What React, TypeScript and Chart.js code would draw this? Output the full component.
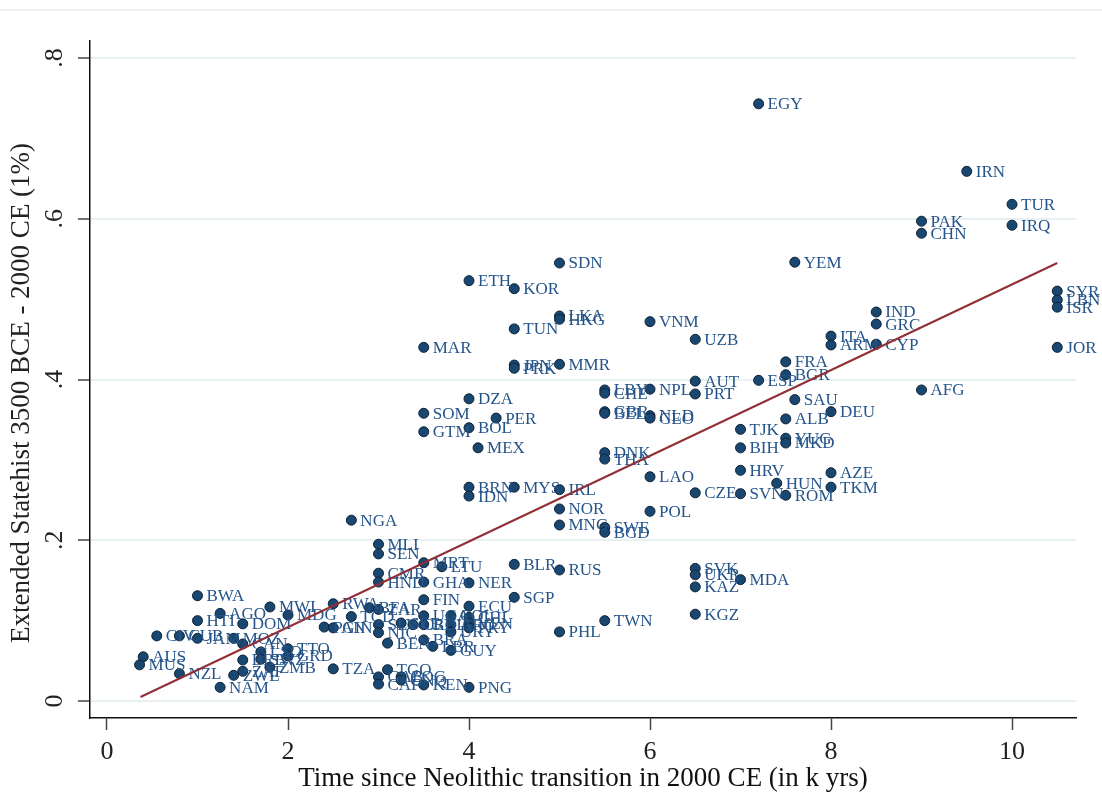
import React, { useEffect, useRef } from "react";
import { Chart, registerables } from "chart.js";

Chart.register(...registerables);

const countries = [
  "EGY", "IRN", "TUR", "IRQ", "PAK", "CHN", "YEM", "SDN", "ETH", "KOR",
  "LKA", "HKG", "TUN", "VNM", "UZB", "MAR", "JPN", "PRK", "MMR", "SYR",
  "LBN", "ISR", "JOR", "IND", "GRC", "CYP", "ITA", "ARM", "FRA", "ESP",
  "BGR", "AFG", "SAU", "DEU", "ALB", "TJK", "YUG", "MKD", "BIH", "HRV",
  "AZE", "HUN", "TKM", "CZE", "SVN", "ROM", "AUT", "PRT", "NPL", "LBY",
  "CHE", "GBR", "BEL", "NLD", "GEO", "DZA", "SOM", "PER", "BOL", "GTM",
  "MEX", "DNK", "THA", "LAO", "BRN", "IDN", "MYS", "IRL", "NOR", "POL",
  "MNG", "SWE", "BGD", "NGA", "MLI", "SEN", "MRT", "LTU", "CMR", "HND",
  "GHA", "NER", "BLR", "RUS", "SGP", "TWN", "PHL", "SVK", "UKR", "MDA",
  "KAZ", "KGZ", "BWA", "AGO", "HTI", "MWI", "DOM", "MDG", "RWA", "CIV",
  "CUB", "JAM", "MOZ", "CAN", "TTO", "GRD", "LSO", "SWZ", "BRB", "ZAF",
  "ZMB", "ZWE", "NAM", "AUS", "MUS", "NZL", "TZA", "BFA", "ZAR", "TCD",
  "PAN", "GIN", "SLV", "NIC", "SLE", "CRI", "BDI", "FIN", "UGA", "COL",
  "ECU", "CHL", "ARG", "VEN", "PRY", "URY", "BEN", "BRA", "LBR", "GUY",
  "TGO", "GAB", "CAF", "COG", "GNQ", "KEN", "PNG",
];

const timeSinceNeolithic = [
  7.2, 9.5, 10, 10, 9, 9, 7.6, 5, 4, 4.5,
  5, 5, 4.5, 6, 6.5, 3.5, 4.5, 4.5, 5, 10.5,
  10.5, 10.5, 10.5, 8.5, 8.5, 8.5, 8, 8, 7.5, 7.2,
  7.5, 9, 7.6, 8, 7.5, 7, 7.5, 7.5, 7, 7,
  8, 7.4, 8, 6.5, 7, 7.5, 6.5, 6.5, 6, 5.5,
  5.5, 5.5, 5.5, 6, 6, 4, 3.5, 4.3, 4, 3.5,
  4.1, 5.5, 5.5, 6, 4, 4, 4.5, 5, 5, 6,
  5, 5.5, 5.5, 2.7, 3, 3, 3.5, 3.7, 3, 3,
  3.5, 4, 4.5, 5, 4.5, 5.5, 5, 6.5, 6.5, 7,
  6.5, 6.5, 1, 1.25, 1, 1.8, 1.5, 2, 2.5, 0.55,
  0.8, 1, 1.4, 1.5, 2, 2, 1.7, 1.7, 1.5, 1.5,
  1.8, 1.4, 1.25, 0.4, 0.36, 0.8, 2.5, 2.9, 3, 2.7,
  2.4, 2.5, 3, 3, 3.25, 3.38, 3.5, 3.5, 3.5, 3.8,
  4, 4, 3.8, 4, 4, 3.8, 3.1, 3.5, 3.6, 3.8,
  3.1, 3, 3, 3.25, 3.25, 3.5, 4,
];

const statehist = [
  0.743, 0.659, 0.618, 0.592, 0.597, 0.582, 0.546, 0.545, 0.523, 0.513,
  0.479, 0.475, 0.463, 0.472, 0.45, 0.44, 0.418, 0.414, 0.419, 0.51,
  0.499, 0.49, 0.44, 0.484, 0.469, 0.444, 0.454, 0.443, 0.422, 0.399,
  0.406, 0.387, 0.375, 0.36, 0.351, 0.338, 0.327, 0.321, 0.315, 0.287,
  0.284, 0.271, 0.266, 0.259, 0.258, 0.256, 0.398, 0.382, 0.388, 0.387,
  0.383, 0.36, 0.358, 0.355, 0.352, 0.376, 0.358, 0.352, 0.34, 0.335,
  0.315, 0.309, 0.301, 0.279, 0.266, 0.255, 0.266, 0.263, 0.239, 0.236,
  0.219, 0.216, 0.21, 0.225, 0.195, 0.183, 0.172, 0.167, 0.159, 0.148,
  0.148, 0.147, 0.17, 0.163, 0.129, 0.1, 0.086, 0.165, 0.157, 0.151,
  0.142, 0.108, 0.131, 0.109, 0.1, 0.117, 0.096, 0.107, 0.121, 0.081,
  0.081, 0.078, 0.078, 0.071, 0.065, 0.056, 0.061, 0.052, 0.051, 0.037,
  0.042, 0.032, 0.017, 0.055, 0.045, 0.034, 0.04, 0.116, 0.114, 0.105,
  0.092, 0.091, 0.095, 0.085, 0.097, 0.095, 0.095, 0.126, 0.106, 0.106,
  0.118, 0.104, 0.095, 0.097, 0.091, 0.086, 0.072, 0.076, 0.068, 0.063,
  0.039, 0.03, 0.021, 0.03, 0.026, 0.02, 0.017,
];

const fitX = [0.37, 10.5];
const fitY = [0.005, 0.545];

const xTicks = [0, 2, 4, 6, 8, 10];
const yTicks = [0, 0.2, 0.4, 0.6, 0.8];

const SERIF = '"Liberation Serif", "Times New Roman", serif';

const labelPlugin = {
  id: "countryLabels",
  afterDatasetDraw(chart: any, args: any) {
    if (args.index !== 0) return;
    const meta = chart.getDatasetMeta(0);
    const ctx = chart.ctx;
    ctx.save();
    ctx.font = `17px ${SERIF}`;
    ctx.fillStyle = "#24548a";
    ctx.textAlign = "left";
    ctx.textBaseline = "middle";
    meta.data.forEach((pt: any, i: number) => {
      ctx.fillText(countries[i], pt.x + 9, pt.y + 1);
    });
    ctx.restore();
  },
};

export default function App() {
  const canvasRef = useRef<HTMLCanvasElement | null>(null);

  useEffect(() => {
    document.body.style.margin = "0";
    const canvas = canvasRef.current;
    if (!canvas) return;
    const scatterData = countries.map((_, i) => ({
      x: timeSinceNeolithic[i],
      y: statehist[i],
    }));
    const fitData = fitX.map((x, i) => ({ x, y: fitY[i] }));

    const chart = new Chart(canvas, {
      type: "scatter",
      data: {
        datasets: [
          {
            type: "scatter",
            label: "Statehist",
            data: scatterData,
            backgroundColor: "#1a476f",
            borderColor: "#0c2238",
            borderWidth: 1,
            pointRadius: 5,
            order: 1,
          },
          {
            type: "line",
            label: "Fitted values",
            data: fitData,
            borderColor: "#922f36",
            borderWidth: 2,
            pointRadius: 0,
            fill: false,
            order: 0,
          } as any,
        ],
      },
      options: {
        animation: false,
        responsive: false,
        devicePixelRatio: 1,
        layout: { padding: { left: 0, top: 41, right: 26, bottom: 0 } },
        plugins: {
          legend: { display: false },
          tooltip: { enabled: false },
        },
        scales: {
          x: {
            type: "linear",
            min: -0.1878,
            max: 10.707,
            afterBuildTicks: (s: any) => {
              s.ticks = xTicks.map((v) => ({ value: v }));
            },
            afterFit: (s: any) => {
              s.height = 80;
            },
            grid: {
              drawOnChartArea: false,
              drawTicks: true,
              tickLength: 12,
              tickColor: "#444",
              tickWidth: 1.5,
            },
            border: { display: true, color: "#111", width: 1.5 },
            ticks: {
              font: { family: SERIF, size: 26 },
              color: "#222",
              padding: 7,
              maxRotation: 0,
              callback: (v: any) => String(v),
            },
            title: {
              display: true,
              text: "Time since Neolithic transition in 2000 CE (in k yrs)",
              font: { family: SERIF, size: 27 },
              color: "#111",
              padding: { top: 0, bottom: 3 },
            },
          },
          y: {
            type: "linear",
            min: -0.02115,
            max: 0.8212,
            afterBuildTicks: (s: any) => {
              s.ticks = yTicks.map((v) => ({ value: v }));
            },
            afterFit: (s: any) => {
              s.width = 90;
            },
            grid: {
              drawOnChartArea: true,
              color: "#e9f0f2",
              lineWidth: 2,
              drawTicks: true,
              tickLength: 12,
              tickColor: "#444",
              tickWidth: 1.5,
            },
            border: { display: true, color: "#111", width: 1.5 },
            ticks: {
              font: { family: SERIF, size: 26 },
              color: "#222",
              padding: 13,
              minRotation: 90,
              maxRotation: 90,
              crossAlign: "center",
              callback: (v: any) => {
                const n = Number(v);
                if (Math.abs(n) < 1e-9) return "0";
                return "." + Math.round(n * 10);
              },
            },
            title: {
              display: true,
              text: "Extended Statehist 3500 BCE - 2000 CE (1%)    ",
              font: { family: SERIF, size: 27 },
              color: "#222",
              padding: { top: 6, bottom: 0 },
            },
          },
        },
      } as any,
      plugins: [labelPlugin],
    });

    return () => chart.destroy();
  }, []);

  return (
    <div style={{ position: "relative", width: 1102, height: 798, background: "#fff" }}>
      <div
        style={{
          position: "absolute",
          left: 0,
          top: 9,
          width: 1102,
          height: 2,
          background: "#eef2f3",
        }}
      />
      <canvas
        ref={canvasRef}
        width={1102}
        height={798}
        style={{ position: "absolute", left: 0, top: 0, width: 1102, height: 798, display: "block" }}
      />
    </div>
  );
}
